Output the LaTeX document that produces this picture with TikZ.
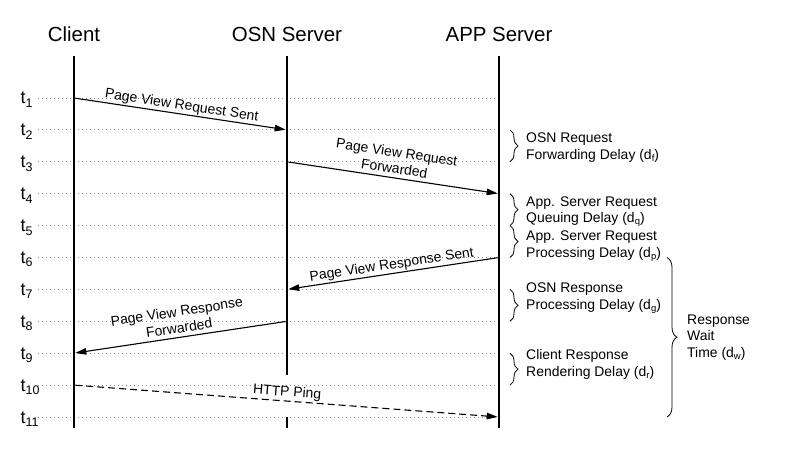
\documentclass[tikz,border=0pt]{standalone}
\usepackage{fontspec}
\setmainfont{Liberation Sans}
\usetikzlibrary{arrows.meta,decorations.pathreplacing}
\newcommand\tsub[1]{\raisebox{-3.5bp}{\fontsize{12.5}{12.5}\selectfont #1}}
\newcommand\nsub[1]{\raisebox{-2bp}{\fontsize{9.5}{9.5}\selectfont #1}}
\newcommand\dstrut{\rule[-3bp]{0pt}{3bp}}
\newcommand\ustrut{\rule{0pt}{11bp}}
\begin{document}
\begin{tikzpicture}[x=1bp,y=-1bp,
  lifeline/.style={line width=2.6bp},
  gridline/.style={black!45, line width=0.8bp, dash pattern=on 0.8bp off 3.2bp},
  msg/.style={line width=1.1bp,-{Triangle[length=11bp,width=6.5bp]}, shorten >=1.3bp, shorten <=1.3bp},
  msglabel/.style={sloped, above, midway, inner sep=1bp, font=\fontsize{14}{16.5}\selectfont, align=center},
  head/.style={font=\fontsize{20.5}{24}\selectfont, anchor=base, inner sep=0},
  tlab/.style={font=\fontsize{18}{20}\selectfont, anchor=base west, inner sep=0},
  note/.style={font=\fontsize{14}{16.8}\selectfont, align=left, anchor=north west, inner sep=0},
  smallbrace/.style={decorate, decoration={brace, amplitude=8bp}, line width=0.8bp},
  bigbrace/.style={decorate, decoration={brace, amplitude=10bp}, line width=0.8bp},
]
\fill[white] (0,0) rectangle (788,453);
\useasboundingbox (0,0) rectangle (788,453);

% headers
\node[head] (client) at (74,42) {Client};
\node[head] (osn) at (287,42) {OSN Server};
\node[head] (app) at (499,42) {APP Server};

% time rows
\foreach \i in {1,...,11} {
  \pgfmathsetmacro\yy{98+(\i-1)*31.9}
  \coordinate (C\i) at (74,\yy);
  \coordinate (O\i) at (287,\yy);
  \coordinate (A\i) at (499,\yy);
  \coordinate (L\i) at (38,\yy);
  \coordinate (B\i) at (510,\yy);
  \coordinate (W\i) at (667,\yy);
  \draw[gridline] (L\i) -- (A\i);
  \node[tlab] (t\i) at (20.5,\yy+6) {t\tsub{\i}};
}

% lifelines
\coordinate (Ctop) at (74,56);  \coordinate (Cbot) at (74,428);
\coordinate (Otop) at (287,56); \coordinate (Ogap1) at (287,375);
\coordinate (Ogap2) at (287,417); \coordinate (Obot) at (287,428);
\coordinate (Atop) at (499,56); \coordinate (Abot) at (499,428);
\draw[lifeline] (Ctop) -- (Cbot);
\draw[lifeline] (Otop) -- (Ogap1);
\draw[lifeline] (Ogap2) -- (Obot);
\draw[lifeline] (Atop) -- (Abot);

% messages
\draw[msg] (C1) -- node[msglabel] (m1) {Page View Request Sent\dstrut} (O2);
\draw[msg] (O3) -- node[msglabel] (m2) {Page View Request\\Forwarded\dstrut} (A4);
\draw[msg] (A6) -- node[msglabel] (m3) {Page View Response Sent\dstrut} (O7);
\draw[msg] (O8) -- node[msglabel] (m4) {Page View Response\\Forwarded\dstrut} (C9);
\draw[msg, dash pattern=on 7bp off 4bp] (C10) -- node[msglabel] (m5) {HTTP Ping\dstrut} (A11);

% braces
\draw[smallbrace] (B2) -- (B3);
\draw[smallbrace] (B4) -- (B5);
\draw[smallbrace] (B5) -- (B6);
\draw[smallbrace] (B7) -- (B8);
\draw[smallbrace] (B9) -- (B10);
\draw[bigbrace] (W6) -- (W11);

% notes
\node[note] (n1) at (526,131.7) {\ustrut OSN Request\\Forwarding Delay (d\nsub{f})};
\node[note] (n2) at (526,195) {\ustrut App. Server Request\\Queuing Delay (d\nsub{q})};
\node[note] (n3) at (526,229.7) {\ustrut App. Server Request\\Processing Delay (d\nsub{p})};
\node[note] (n4) at (526,281.7) {\ustrut OSN Response\\Processing Delay (d\nsub{g})};
\node[note] (n5) at (526,348.3) {\ustrut Client Response\\Rendering Delay (d\nsub{r})};
\node[note] (n6) at (687,313) {\ustrut Response\\Wait\\Time (d\nsub{w})};
\end{tikzpicture}
\end{document}
